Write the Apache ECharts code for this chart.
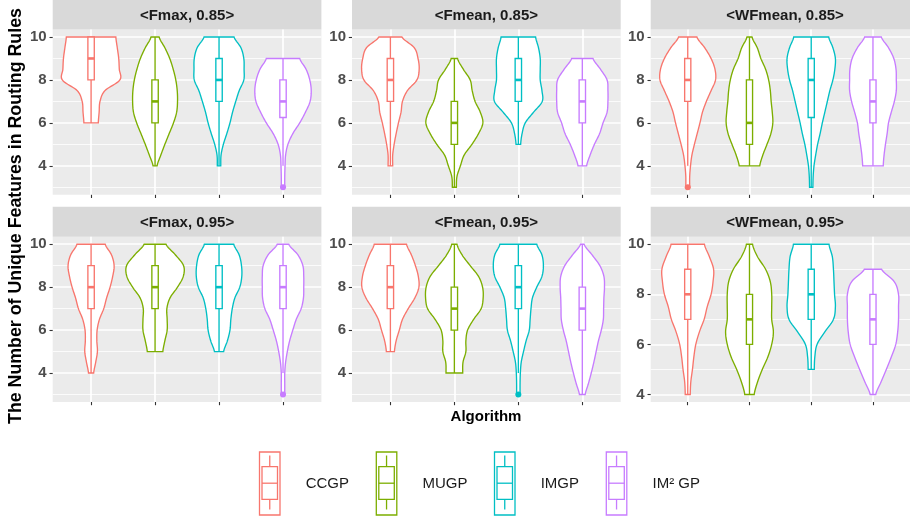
<!DOCTYPE html>
<html><head><meta charset="utf-8">
<script src="https://cdn.jsdelivr.net/npm/echarts@6/dist/echarts.min.js"></script>
<style>html,body{margin:0;padding:0;background:#fff}#c{width:910px;height:521px}</style>
</head><body><div id="c"></div>
<script>
// ---------------- DATA ----------------
const algorithms = ['CCGP', 'MUGP', 'IMGP', 'IM² GP'];
const panelTitles = ['<Fmax, 0.85>', '<Fmean, 0.85>', '<WFmean, 0.85>', '<Fmax, 0.95>', '<Fmean, 0.95>', '<WFmean, 0.95>'];
const majorTicks = [4, 6, 8, 10];
const minorTicks = [3, 5, 7, 9];
const yRanges = [[2.65, 10.35], [2.65, 10.35], [2.65, 10.35], [2.65, 10.35], [2.65, 10.35], [3.7, 10.3]];
// levels at which the violin (relative density) widths were read
const densityLevels = [3, 3.5, 4, 4.5, 5, 5.5, 6, 6.5, 7, 7.5, 8, 8.5, 9, 9.5, 10];

// box stats: [lower whisker, Q1, median, Q3, upper whisker]
const boxFmax085   = [[6, 8, 9, 10, 10], [4, 6, 7, 8, 10], [4, 7, 8, 9, 10], [4, 6.25, 7, 8, 9]];
const boxFmean085  = [[4, 7, 8, 9, 10], [3, 5, 6, 7, 9], [5, 7, 8, 9, 10], [4, 6, 7, 8, 9]];
const boxWFmean085 = [[4, 7, 8, 9, 10], [4, 5, 6, 8, 10], [3, 6.25, 8, 9, 10], [4, 6, 7, 8, 10]];
const boxFmax095   = [[4, 7, 8, 9, 10], [5, 7, 8, 9, 10], [5, 7, 8, 9, 10], [4, 7, 8, 9, 10]];
const boxFmean095  = [[5, 7, 8, 9, 10], [4, 6, 7, 8, 10], [4, 7, 8, 9, 10], [3, 6, 7, 8, 10]];
const boxWFmean095 = [[4, 7, 8, 9, 10], [4, 6, 7, 8, 10], [5, 7, 8, 9, 10], [4, 6, 7, 8, 9]];

// outliers: [algorithm index, value]
const outFmax085 = [[3, 3]];
const outFmean085 = [];
const outWFmean085 = [[0, 3]];
const outFmax095 = [[3, 3]];
const outFmean095 = [[2, 3]];
const outWFmean095 = [];

// violin relative half-widths at densityLevels (null = outside data range)
const violinFmax085 = [
  [null, null, null, null, null, null, 0.25, 0.28, 0.31, 0.48, 1.00, 0.98, 0.96, 0.91, 0.86],
  [null, null, 0.07, 0.20, 0.34, 0.49, 0.64, 0.75, 0.78, 0.77, 0.72, 0.63, 0.51, 0.34, 0.14],
  [null, null, 0.06, 0.07, 0.15, 0.27, 0.38, 0.47, 0.58, 0.70, 0.86, 0.87, 0.86, 0.76, 0.52],
  [0.06, 0.06, 0.07, 0.09, 0.17, 0.34, 0.58, 0.78, 0.94, 0.98, 0.93, 0.80, 0.58, null, null]
];
const violinFmean085 = [
  [null, null, 0.08, 0.08, 0.13, 0.20, 0.28, 0.37, 0.42, 0.59, 0.92, 1.00, 0.96, 0.83, 0.40],
  [0.07, 0.09, 0.21, 0.34, 0.61, 0.84, 0.99, 0.90, 0.72, 0.62, 0.55, 0.31, 0.11, null, null],
  [null, null, null, null, 0.08, 0.13, 0.24, 0.53, 0.83, 0.82, 0.76, 0.76, 0.76, 0.70, 0.60],
  [null, null, 0.15, 0.27, 0.42, 0.60, 0.72, 0.86, 0.89, 0.89, 0.86, 0.63, 0.37, null, null]
];
const violinWFmean085 = [
  [0.07, 0.07, 0.10, 0.15, 0.24, 0.34, 0.44, 0.53, 0.67, 0.84, 1.00, 0.98, 0.84, 0.61, 0.33],
  [null, null, 0.37, 0.48, 0.63, 0.77, 0.84, 0.82, 0.78, 0.75, 0.69, 0.58, 0.41, 0.28, 0.09],
  [0.06, 0.07, 0.10, 0.16, 0.23, 0.32, 0.40, 0.49, 0.58, 0.67, 0.78, 0.85, 0.87, 0.78, 0.63],
  [null, null, 0.37, 0.40, 0.45, 0.51, 0.56, 0.66, 0.77, 0.84, 0.84, 0.83, 0.75, 0.56, 0.30]
];
const violinFmax095 = [
  [null, null, 0.09, 0.16, 0.22, 0.20, 0.21, 0.29, 0.44, 0.54, 0.66, 0.75, 0.80, 0.71, 0.49],
  [null, null, null, null, 0.27, 0.34, 0.42, 0.42, 0.41, 0.52, 0.78, 0.98, 0.99, 0.71, 0.38],
  [null, null, null, null, 0.16, 0.29, 0.38, 0.41, 0.46, 0.55, 0.72, 0.79, 0.78, 0.70, 0.51],
  [0.06, 0.06, 0.06, 0.09, 0.15, 0.23, 0.34, 0.46, 0.63, 0.71, 0.72, 0.72, 0.69, 0.52, 0.20]
];
const violinFmean095 = [
  [null, null, null, null, 0.14, 0.20, 0.31, 0.42, 0.62, 0.85, 0.99, 0.97, 0.87, 0.73, 0.56],
  [null, null, 0.29, 0.30, 0.40, 0.40, 0.46, 0.67, 0.93, 1.00, 0.98, 0.84, 0.55, 0.27, 0.09],
  [0.06, 0.06, 0.07, 0.10, 0.18, 0.27, 0.38, 0.41, 0.44, 0.49, 0.64, 0.82, 0.87, 0.82, 0.64],
  [0.10, 0.21, 0.31, 0.40, 0.48, 0.56, 0.66, 0.73, 0.74, 0.75, 0.77, 0.75, 0.61, 0.34, 0.06]
];
const violinWFmean095 = [
  [null, null, 0.09, 0.11, 0.17, 0.22, 0.29, 0.42, 0.59, 0.70, 0.84, 0.91, 0.93, 0.78, 0.60],
  [null, null, 0.17, 0.29, 0.46, 0.66, 0.80, 0.86, 0.80, 0.80, 0.80, 0.75, 0.58, 0.29, 0.11],
  [null, null, null, null, 0.11, 0.13, 0.21, 0.49, 0.80, 0.87, 0.84, 0.82, 0.80, 0.76, 0.64],
  [null, null, 0.10, 0.29, 0.48, 0.66, 0.82, 0.89, 0.92, 0.92, 0.92, 0.77, 0.31, null, null]
];

// ---------------- STYLE / LAYOUT ----------------
const colors = ['#F8766D', '#7CAE00', '#00BFC4', '#C77CFF'];
const FONT = '"Liberation Sans", Arial, Helvetica, sans-serif';
const boxes = [boxFmax085, boxFmean085, boxWFmean085, boxFmax095, boxFmean095, boxWFmean095];
const outliers = [outFmax085, outFmean085, outWFmean085, outFmax095, outFmean095, outWFmean095];
const violins = [violinFmax085, violinFmean085, violinWFmean085, violinFmax095, violinFmean095, violinWFmean095];

const colLeft = [52.7, 352, 650.7];
const panelW = 268.7;
const rowTop = [29.5, 236.7];
const panelH = 165.3;
const stripH = 30;

function catmull(p0, p1, p2, p3, t) {
  const t2 = t * t, t3 = t2 * t;
  return 0.5 * ((2 * p1) + (-p0 + p2) * t + (2 * p0 - 5 * p1 + 4 * p2 - p3) * t2 + (-p0 + 3 * p1 - 3 * p2 + p3) * t3);
}

function makeRender(pi) {
  return function (params, api) {
    const i = params.dataIndex;
    const x = api.value(0);
    const dens = violins[pi][i];
    let lo = 0; while (dens[lo] == null) lo++;
    let hi = dens.length - 1; while (dens[hi] == null) hi--;
    const unit = api.size([1, 0])[0];
    const maxHW = 0.45 * unit;
    const right = [], left = [];
    const steps = 10;
    const stepV = densityLevels[1] - densityLevels[0];
    for (let k = lo; k <= hi; k++) {
      const nsub = k < hi ? steps : 1;
      for (let s = 0; s < nsub; s++) {
        const t = s / steps;
        const p0 = dens[Math.max(k - 1, lo)], p1 = dens[k], p2 = dens[Math.min(k + 1, hi)], p3 = dens[Math.min(k + 2, hi)];
        let d = catmull(p0, p1, p2, p3, t);
        if (d < 0.03) d = 0.03;
        const c = api.coord([x, densityLevels[k] + t * stepV]);
        right.push([c[0] + d * maxHW, c[1]]);
        left.push([c[0] - d * maxHW, c[1]]);
      }
    }
    const pts = right.concat(left.reverse());
    const col = colors[i];
    const cL = api.coord([x, api.value(1)]);
    const cQ1 = api.coord([x, api.value(2)]);
    const cM = api.coord([x, api.value(3)]);
    const cQ3 = api.coord([x, api.value(4)]);
    const cH = api.coord([x, api.value(5)]);
    const bw = 0.05 * unit;
    const lw = 1.35;
    return {
      type: 'group',
      children: [
        { type: 'polygon', shape: { points: pts }, style: { fill: '#fff', stroke: col, lineWidth: lw } },
        { type: 'line', shape: { x1: cL[0], y1: cL[1], x2: cQ1[0], y2: cQ1[1] }, style: { stroke: col, lineWidth: lw } },
        { type: 'line', shape: { x1: cQ3[0], y1: cQ3[1], x2: cH[0], y2: cH[1] }, style: { stroke: col, lineWidth: lw } },
        { type: 'rect', shape: { x: cQ1[0] - bw, y: cQ3[1], width: 2 * bw, height: cQ1[1] - cQ3[1] }, style: { fill: '#fff', stroke: col, lineWidth: lw } },
        { type: 'line', shape: { x1: cM[0] - bw, y1: cM[1], x2: cM[0] + bw, y2: cM[1] }, style: { stroke: col, lineWidth: 2.6 } }
      ]
    };
  };
}

const grids = [], xAxes = [], yAxes = [], series = [], graphics = [];
for (let p = 0; p < 6; p++) {
  const r = Math.floor(p / 3), c = p % 3;
  grids.push({ left: colLeft[c], top: rowTop[r], width: panelW, height: panelH, show: true, backgroundColor: '#EBEBEB', borderWidth: 0, containLabel: false });
  xAxes.push({
    type: 'value', gridIndex: p, min: 0.4, max: 4.6,
    axisLine: { show: false },
    axisTick: { show: true, customValues: [1, 2, 3, 4], length: 3.2, lineStyle: { color: '#333', width: 1.1 } },
    axisLabel: { show: false },
    splitLine: { show: true, lineStyle: { color: '#fff', width: 1.7 } }
  });
  yAxes.push({
    type: 'value', gridIndex: p, min: yRanges[p][0], max: yRanges[p][1], position: 'left',
    axisLine: { show: false },
    axisTick: { show: true, customValues: majorTicks, length: 3.2, lineStyle: { color: '#333', width: 1.1 } },
    axisLabel: { show: true, customValues: majorTicks, fontSize: 15, fontWeight: 'bold', color: '#4D4D4D', margin: 6, fontFamily: FONT },
    splitLine: { show: true, lineStyle: { color: '#fff', width: 1.7 } }
  });
  yAxes.push({
    type: 'value', gridIndex: p, min: yRanges[p][0], max: yRanges[p][1], position: 'left',
    axisLine: { show: false },
    axisTick: { show: false, customValues: minorTicks },
    axisLabel: { show: false },
    splitLine: { show: true, lineStyle: { color: '#fff', width: 0.8 } }
  });
  series.push({
    type: 'custom', xAxisIndex: p, yAxisIndex: 2 * p, renderItem: makeRender(p), silent: true,
    encode: { x: 0, y: [1, 2, 3, 4, 5] },
    data: boxes[p].map((b, i) => [i + 1].concat(b))
  });
  series.push({
    type: 'scatter', xAxisIndex: p, yAxisIndex: 2 * p, symbolSize: 6, silent: true,
    itemStyle: { color: (prm) => colors[prm.value[2]], opacity: 1 },
    data: outliers[p].map(o => [o[0] + 1, o[1], o[0]])
  });
  // strip
  graphics.push({ type: 'rect', shape: { x: colLeft[c], y: rowTop[r] - stripH, width: panelW, height: stripH }, style: { fill: '#D9D9D9' }, silent: true });
  graphics.push({ type: 'text', x: colLeft[c] + panelW / 2, y: rowTop[r] - stripH / 2 + 1,
    style: { text: panelTitles[p], font: 'bold 15px ' + FONT, fill: '#1A1A1A', align: 'center', verticalAlign: 'middle', textAlign: 'center', textVerticalAlign: 'middle' } });
}

// axis titles
graphics.push({ type: 'text', x: 16, y: 216, rotation: Math.PI / 2,
  style: { text: 'The Number of Unique Features in Routing Rules', font: 'bold 17.8px ' + FONT, fill: '#000', align: 'center', verticalAlign: 'middle', textAlign: 'center', textVerticalAlign: 'middle' } });
graphics.push({ type: 'text', x: 486, y: 417,
  style: { text: 'Algorithm', font: 'bold 15px ' + FONT, fill: '#000', align: 'center', verticalAlign: 'middle', textAlign: 'center', textVerticalAlign: 'middle' } });

// legend
const legendKeyX = [259.5, 376.3, 494.5, 606.3];
algorithms.forEach((name, i) => {
  const kx = legendKeyX[i], col = colors[i];
  const cx = kx + 10.25;
  const st = { stroke: col, lineWidth: 1.3 };
  graphics.push({ type: 'rect', shape: { x: kx, y: 452, width: 20.5, height: 63 }, style: { fill: '#fff', stroke: col, lineWidth: 1.3 } });
  graphics.push({ type: 'line', shape: { x1: cx, y1: 455.5, x2: cx, y2: 466.7 }, style: st });
  graphics.push({ type: 'rect', shape: { x: kx + 2.5, y: 466.7, width: 15.5, height: 32.6 }, style: { fill: '#fff', stroke: col, lineWidth: 1.3 } });
  graphics.push({ type: 'line', shape: { x1: kx + 2.5, y1: 483.2, x2: kx + 18, y2: 483.2 }, style: st });
  graphics.push({ type: 'line', shape: { x1: cx, y1: 499.3, x2: cx, y2: 509.5 }, style: st });
  graphics.push({ type: 'text', x: kx + 46.2, y: 483.5,
    style: { text: name, font: '15px ' + FONT, fill: '#1A1A1A', align: 'left', verticalAlign: 'middle', textAlign: 'left', textVerticalAlign: 'middle' } });
});

const chart = echarts.init(document.getElementById('c'), null, { renderer: 'canvas' });
chart.setOption({
  animation: false,
  backgroundColor: '#fff',
  grid: grids,
  xAxis: xAxes,
  yAxis: yAxes,
  series: series,
  graphic: { elements: graphics }
});
</script></body></html>
